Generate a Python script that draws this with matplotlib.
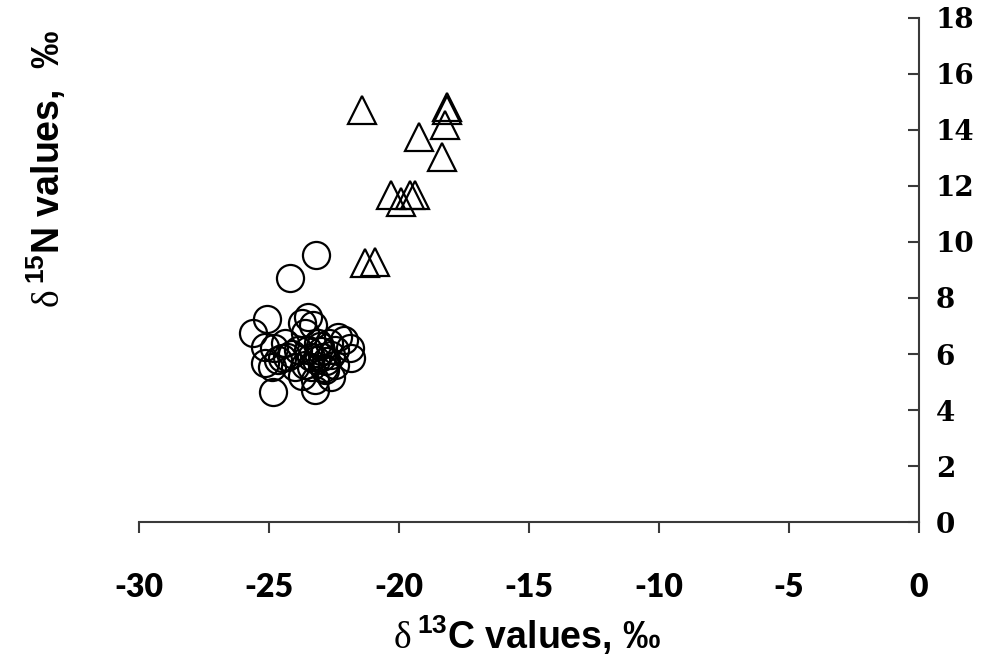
import matplotlib
matplotlib.use("Agg")
import matplotlib.pyplot as plt

# circles (d13C, d15N)
circ_c = [-24.2, -23.2, -25.09, -25.6, -24.84, -23.24, -23.5, -23.75, -23.3, -21.9,
          -22.1, -21.83, -25.16, -25.16, -24.9, -24.8, -24.4, -24.3, -24.0, -23.75,
          -23.37, -22.98, -22.85, -23.1, -22.7, -22.47, -22.47, -22.35, -23.5, -23.9,
          -23.6, -24.66, -23.24, -22.6, -23.0, -22.8, -23.2, -22.6, -23.4, -24.1,
          -22.9, -23.05, -24.5, -23.6]
circ_n = [8.71, 9.54, 7.25, 6.74, 4.65, 4.71, 7.33, 7.1, 7.03, 6.2,
          6.5, 5.85, 6.26, 5.68, 5.55, 6.2, 6.38, 5.9, 5.55, 5.2,
          5.55, 5.9, 5.43, 6.38, 6.38, 6.14, 5.6, 6.6, 6.14, 6.14,
          6.74, 5.78, 5.07, 5.18, 6.1, 5.75, 5.8, 5.95, 5.9, 6.0,
          5.5, 6.3, 5.85, 5.6]

# triangles (d13C, d15N)
tri_c = [-21.42, -18.14, -18.16, -18.24, -19.24, -18.35, -20.32, -19.93, -19.58, -19.4, -21.29, -20.93]
tri_n = [14.71, 14.83, 14.7, 14.18, 13.76, 13.05, 11.68, 11.44, 11.68, 11.68, 9.24, 9.3]

x_ticks = [-30, -25, -20, -15, -10, -5, 0]
y_ticks = [0, 2, 4, 6, 8, 10, 12, 14, 16, 18]

plt.rcParams['axes.unicode_minus'] = False
plt.rcParams['mathtext.fontset'] = 'custom'
plt.rcParams['mathtext.rm'] = 'Liberation Serif'
plt.rcParams['mathtext.bf'] = 'Liberation Sans:bold'

fig = plt.figure(figsize=(10, 6.65), dpi=100)
ax = fig.add_axes([0.139, 0.215, 0.78, 0.758])

ax.plot(circ_c, circ_n, 'o', ms=19.5, mfc='none', mec='black', mew=1.6, linestyle='none')
ax.plot(tri_c, tri_n, '^', ms=19.5, mfc='none', mec='black', mew=1.6, linestyle='none')

ax.set_xlim(-30, 0)
ax.set_ylim(0, 18)
ax.set_xticks(x_ticks)
ax.set_yticks(y_ticks)

for s in ['left', 'top']:
    ax.spines[s].set_visible(False)
for s in ['bottom', 'right']:
    ax.spines[s].set_color('#3a3a3a')
    ax.spines[s].set_linewidth(1.5)

ax.yaxis.tick_right()
ax.tick_params(axis='y', direction='in', length=8, width=1.5, color='#3a3a3a', pad=12)
ax.tick_params(axis='x', direction='out', length=8, width=1.5, color='#3a3a3a', pad=29)

for lbl in ax.get_xticklabels():
    lbl.set_family(['Lato', 'Liberation Sans'])
    lbl.set_fontweight('heavy')
    lbl.set_fontsize(23)
for lbl in ax.get_yticklabels():
    lbl.set_family('DejaVu Serif')
    lbl.set_fontweight('bold')
    lbl.set_fontsize(20)

fig.text(0.527, 0.045, "$\\mathrm{\\delta}\\,^{\\mathbf{13}}$C values, ‰", ha='center', va='center',
         fontsize=27, fontweight='bold', family='Liberation Sans')
fig.text(0.046, 0.747, "$\\mathrm{\\delta}\\,^{\\mathbf{15}}$N values,  ‰", ha='center', va='center',
         rotation=90, fontsize=27, fontweight='bold', family='Liberation Sans')

fig.savefig('out.png', dpi=100)
